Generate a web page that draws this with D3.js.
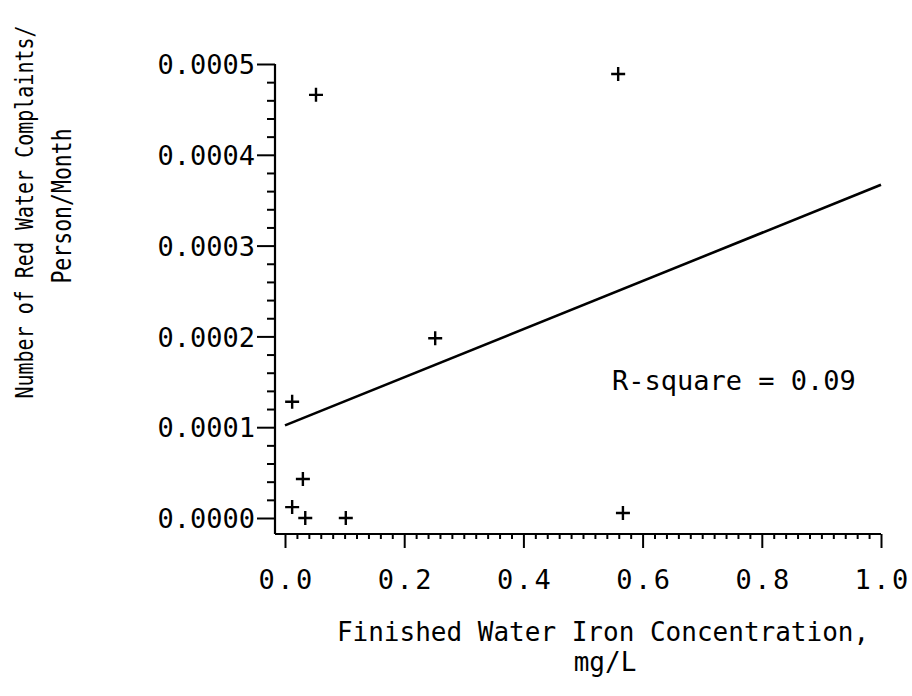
<!DOCTYPE html>
<html>
<head>
<meta charset="utf-8">
<script src="https://cdn.jsdelivr.net/npm/d3@7"></script>
<style>
  html, body { margin: 0; padding: 0; background: #fff; }
  svg { display: block; }
  text { font-family: "DejaVu Sans Mono", monospace; fill: #000; }
</style>
</head>
<body>
<svg id="chart" width="912" height="696"></svg>
<script>
// ---- data ----
const ironConc = [0.052, 0.559, 0.252, 0.012, 0.030, 0.012, 0.034, 0.102, 0.567];
const complaints = [0.000466, 0.000489, 0.000198, 0.000128, 0.000043, 0.000012, 0.0, 0.0, 0.0000055];
const fitIntercept = 0.000102;
const fitSlope = 0.000265;
const fitRange = [0.0, 1.0];
const xMajorTicks = [0.0, 0.2, 0.4, 0.6, 0.8, 1.0];
const yMajorTicks = [0.0, 0.0001, 0.0002, 0.0003, 0.0004, 0.0005];
const xTickLabels = ["0.0", "0.2", "0.4", "0.6", "0.8", "1.0"];
const yTickLabels = ["0.0000", "0.0001", "0.0002", "0.0003", "0.0004", "0.0005"];
const rsqLabel = "R-square = 0.09";
const xTitle = ["Finished Water Iron Concentration,", "mg/L"];
const yTitle = ["Number of Red Water Complaints/", "Person/Month"];

// ---- layout ----
const svg = d3.select("#chart");
const x = d3.scaleLinear().domain([0, 1]).range([285, 881]);
const y = d3.scaleLinear().domain([0, 0.0005]).range([518, 64]);
const axisX = 275, axisY = 534;

const xMinor = d3.range(0, 51).map(i => i * 0.02).filter(v => !xMajorTicks.some(m => Math.abs(m - v) < 1e-9));
const yMinor = d3.range(0, 26).map(i => i * 0.00002).filter(v => !yMajorTicks.some(m => Math.abs(m - v) < 1e-12));

// x axis
const gx = svg.append("g").attr("transform", `translate(0,${axisY})`);
gx.append("g").call(d3.axisBottom(x).tickValues(xMinor).tickSize(5).tickFormat(""))
  .call(g => g.select(".domain").remove());
gx.append("g").call(d3.axisBottom(x).tickValues(xMajorTicks).tickSize(14).tickPadding(22)
  .tickFormat((d, i) => xTickLabels[i]))
  .call(g => g.select(".domain").remove())
  .call(g => g.selectAll("text").attr("font-family", "DejaVu Sans Mono").attr("font-size", 27)
     .attr("letter-spacing", 2.5).attr("dx", 1.25));
gx.selectAll("line").attr("stroke", "#000").attr("stroke-width", 2);
gx.append("line").attr("x1", axisX).attr("x2", x(1)).attr("y1", 0).attr("y2", 0)
  .attr("stroke", "#000").attr("stroke-width", 2.2);

// y axis
const gy = svg.append("g").attr("transform", `translate(${axisX},0)`);
gy.append("g").call(d3.axisLeft(y).tickValues(yMinor).tickSize(8).tickFormat(""))
  .call(g => g.select(".domain").remove());
gy.append("g").call(d3.axisLeft(y).tickValues(yMajorTicks).tickSize(18).tickPadding(2)
  .tickFormat((d, i) => yTickLabels[i]))
  .call(g => g.select(".domain").remove())
  .call(g => g.selectAll("text").attr("font-family", "DejaVu Sans Mono").attr("font-size", 27)
     .attr("dy", "0.36em"));
gy.selectAll("line").attr("stroke", "#000").attr("stroke-width", 2);
gy.append("line").attr("x1", 0).attr("x2", 0).attr("y1", y(0.0005)).attr("y2", axisY)
  .attr("stroke", "#000").attr("stroke-width", 2.2);

// regression line
svg.append("line")
  .attr("x1", x(fitRange[0])).attr("y1", y(fitIntercept + fitSlope * fitRange[0]))
  .attr("x2", x(fitRange[1])).attr("y2", y(fitIntercept + fitSlope * fitRange[1]))
  .attr("stroke", "#000").attr("stroke-width", 2.6);

// points (plus markers)
const pts = svg.append("g");
ironConc.forEach((v, i) => {
  const cx = x(v), cy = y(complaints[i]);
  pts.append("path")
    .attr("d", `M${cx - 7},${cy}H${cx + 7}M${cx},${cy - 7}V${cy + 7}`)
    .attr("stroke", "#000").attr("stroke-width", 2.4);
});

// R-square annotation
svg.append("text").attr("x", 612).attr("y", 390).attr("font-size", 27).text(rsqLabel);

// axis titles
svg.append("text").attr("x", 603).attr("y", 641).attr("text-anchor", "middle")
  .attr("font-size", 26).text(xTitle[0]);
svg.append("text").attr("x", 605).attr("y", 671).attr("text-anchor", "middle")
  .attr("font-size", 26).text(xTitle[1]);
svg.append("text").attr("transform", "translate(33,212) rotate(-90) scale(1,1.22)")
  .attr("text-anchor", "middle").attr("font-size", 20).text(yTitle[0]);
svg.append("text").attr("transform", "translate(71,206) rotate(-90) scale(1,1.22)")
  .attr("text-anchor", "middle").attr("font-size", 21.5).text(yTitle[1]);
</script>
</body>
</html>
